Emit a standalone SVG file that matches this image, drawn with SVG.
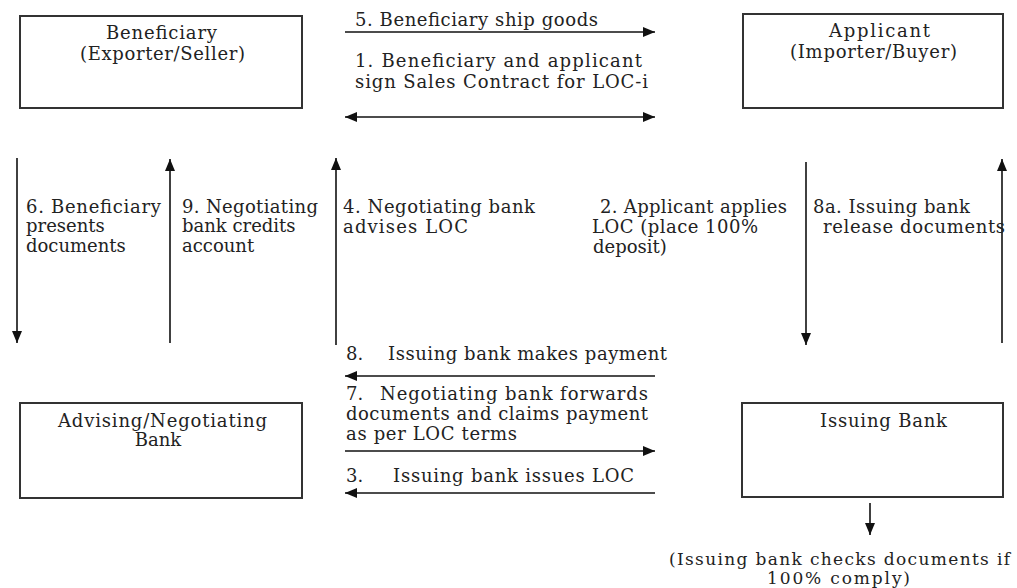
<svg xmlns="http://www.w3.org/2000/svg" width="1017" height="588" viewBox="0 0 1017 588">
<style>
text{font-family:"DejaVu Serif","Liberation Serif",serif;font-size:18px;fill:#222}
.c{text-anchor:middle}
.s{font-size:17px}
.box{fill:#fff;stroke:#333;stroke-width:2}
.ln{stroke:#111;stroke-width:1.6;fill:none}
</style>
<defs>
<marker id="ah" markerUnits="userSpaceOnUse" markerWidth="12" markerHeight="10" refX="12" refY="5" orient="auto-start-reverse">
<path d="M0,0 L12,5 L0,10 z" fill="#111"/>
</marker>
</defs>
<rect width="1017" height="588" fill="#fff"/>
<g id="beneficiary">
<rect class="box" x="20" y="16" width="282" height="92"/>
<text x="106" y="39" textLength="111">Beneficiary</text>
<text x="80" y="60" textLength="165">(Exporter/Seller)</text>
</g>
<g id="applicant">
<rect class="box" x="743" y="14" width="260" height="94"/>
<text x="829" y="37" textLength="101">Applicant</text>
<text x="790" y="58" textLength="167">(Importer/Buyer)</text>
</g>
<g id="advising-bank">
<rect class="box" x="20" y="403" width="282" height="95"/>
<text x="58" y="427" textLength="209">Advising/Negotiating</text>
<text class="c" x="158" y="446">Bank</text>
</g>
<g id="issuing-bank">
<rect class="box" x="742" y="403" width="261" height="94"/>
<text x="820" y="427" textLength="127">Issuing Bank</text>
</g>
<g id="connectors">
<line class="ln" x1="345" y1="32" x2="655" y2="32" marker-end="url(#ah)"/>
<line class="ln" x1="345" y1="117" x2="655" y2="117" marker-start="url(#ah)" marker-end="url(#ah)"/>
<line class="ln" x1="17" y1="158" x2="17" y2="343" marker-end="url(#ah)"/>
<line class="ln" x1="170" y1="343" x2="170" y2="159" marker-end="url(#ah)"/>
<line class="ln" x1="336" y1="345" x2="336" y2="158" marker-end="url(#ah)"/>
<line class="ln" x1="806" y1="162" x2="806" y2="345" marker-end="url(#ah)"/>
<line class="ln" x1="1002" y1="343" x2="1002" y2="159" marker-end="url(#ah)"/>
<line class="ln" x1="655" y1="376" x2="345" y2="376" marker-end="url(#ah)"/>
<line class="ln" x1="345" y1="451" x2="655" y2="451" marker-end="url(#ah)"/>
<line class="ln" x1="655" y1="493" x2="345" y2="493" marker-end="url(#ah)"/>
<line class="ln" x1="870" y1="503" x2="870" y2="535" marker-end="url(#ah)"/>
</g>
<g id="labels">
<text x="355" y="26" textLength="243">5. Beneficiary ship goods</text>
<text x="355" y="67" textLength="287">1. Beneficiary and applicant</text>
<text x="355" y="88" textLength="293">sign Sales Contract for LOC-i</text>
<text x="26" y="213" textLength="135">6. Beneficiary</text>
<text x="26" y="232">presents</text>
<text x="26" y="252">documents</text>
<text x="182" y="213" textLength="136">9. Negotiating</text>
<text x="182" y="232">bank credits</text>
<text x="182" y="252">account</text>
<text x="343" y="213" textLength="192">4. Negotiating bank</text>
<text x="343" y="233" textLength="125">advises LOC</text>
<text x="600" y="213" textLength="187">2. Applicant applies</text>
<text x="592" y="233" textLength="166">LOC (place 100%</text>
<text x="593" y="253">deposit)</text>
<text x="813" y="213" textLength="157">8a. Issuing bank</text>
<text x="823" y="233" textLength="182">release documents</text>
<text x="346" y="360">8.</text>
<text x="388" y="360" textLength="279">Issuing bank makes payment</text>
<text x="346" y="400">7.</text>
<text x="380" y="400" textLength="268">Negotiating bank forwards</text>
<text x="346" y="420" textLength="302">documents and claims payment</text>
<text x="346" y="440" textLength="171">as per LOC terms</text>
<text x="346" y="482">3.</text>
<text x="393" y="482" textLength="241">Issuing bank issues LOC</text>
<text class="s" x="669" y="565" textLength="341">(Issuing bank checks documents if</text>
<text class="s" x="767" y="584" textLength="143">100% comply)</text>
</g>
</svg>
